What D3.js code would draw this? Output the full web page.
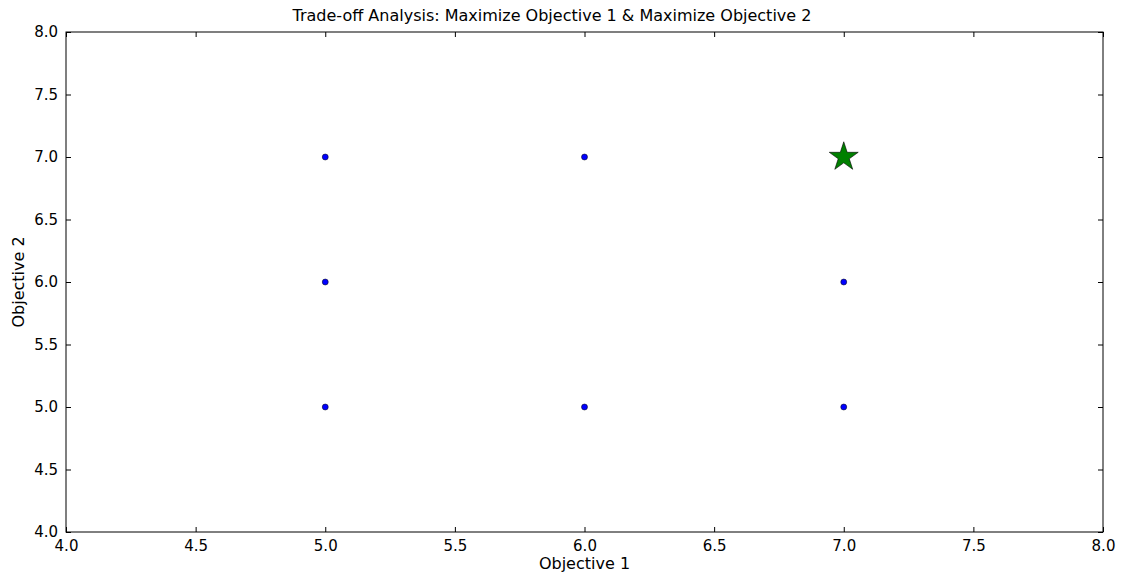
<!DOCTYPE html>
<html>
<head>
<meta charset="utf-8">
<script src="https://cdn.jsdelivr.net/npm/d3@7"></script>
<style>
body { margin: 0; background: #fff; }
text { font-family: "DejaVu Sans", sans-serif; }
</style>
</head>
<body>
<div id="chart"></div>
<script>
var width = 1123,
height = 577,
margin = {top: 32, right: 20, bottom: 45, left: 66};

// points (Objective 1, Objective 2)
var obj1 = [5, 5, 5, 6, 6, 7, 7];
var obj2 = [7, 6, 5, 7, 5, 6, 5];
// best trade-off point
var bestObj1 = [7];
var bestObj2 = [7];
var tickValues = [4.0, 4.5, 5.0, 5.5, 6.0, 6.5, 7.0, 7.5, 8.0];

var points = obj1.map((d, i) => [d, obj2[i]]);
var best = bestObj1.map((d, i) => [d, bestObj2[i]]);

var xScale = d3.scaleLinear().
domain([4, 8]).
range([margin.left, width - margin.right]);
var yScale = d3.scaleLinear().
domain([4, 8]).
range([height - margin.bottom, margin.top]);

const svg = d3.select('#chart').
append('svg').
attr('width', width).
attr('height', height);

// ticks point inward like the classic matplotlib style
const xAxis = d3.axisBottom(xScale).tickValues(tickValues).tickFormat(d3.format('.1f')).tickSizeInner(-5).tickSizeOuter(0).tickPadding(8);
const yAxis = d3.axisLeft(yScale).tickValues(tickValues).tickFormat(d3.format('.1f')).tickSizeInner(-5).tickSizeOuter(0).tickPadding(8);
const xTop = d3.axisTop(xScale).tickValues(tickValues).tickFormat('').tickSizeInner(-5).tickSizeOuter(0);
const yRight = d3.axisRight(yScale).tickValues(tickValues).tickFormat('').tickSizeInner(-5).tickSizeOuter(0);

[
  [xAxis, 'translate(0,' + (height - margin.bottom) + ')'],
  [yAxis, 'translate(' + margin.left + ',0)'],
  [xTop, 'translate(0,' + margin.top + ')'],
  [yRight, 'translate(' + (width - margin.right) + ',0)']
].forEach(a => {
  var g = svg.append('g').attr('transform', a[1]).call(a[0]);
  g.select('.domain').remove();
  g.selectAll('line').attr('stroke', '#000');
  g.selectAll('text').attr('font-size', 15).attr('fill', '#000');
});

svg.append('rect').
attr('x', margin.left).
attr('y', margin.top).
attr('width', width - margin.left - margin.right).
attr('height', height - margin.top - margin.bottom).
attr('fill', 'none').
attr('stroke', '#000').
attr('stroke-width', 1);

svg.selectAll('circle.pt').
data(points).
enter().
append('circle').
attr('class', 'pt').
attr('cx', d => xScale(d[0])).
attr('cy', d => yScale(d[1])).
attr('r', 3).
attr('fill', '#0000ff').
attr('stroke', '#000').
attr('stroke-width', 0.5);

var star = d3.symbol().type(d3.symbolStar).size(260);
svg.selectAll('path.best').
data(best).
enter().
append('path').
attr('class', 'best').
attr('d', star).
attr('transform', d => 'translate(' + xScale(d[0]) + ',' + yScale(d[1]) + ')').
attr('fill', '#008000').
attr('stroke', '#000').
attr('stroke-width', 0.6);

svg.append('text').
attr('x', 552).
attr('y', 21).
attr('text-anchor', 'middle').
attr('font-size', 16).
text('Trade-off Analysis: Maximize Objective 1 & Maximize Objective 2');

svg.append('text').
attr('x', (margin.left + width - margin.right) / 2).
attr('y', 569).
attr('text-anchor', 'middle').
attr('font-size', 16).
text('Objective 1');

svg.append('text').
attr('transform', 'translate(24,' + ((margin.top + height - margin.bottom) / 2) + ') rotate(-90)').
attr('text-anchor', 'middle').
attr('font-size', 16).
text('Objective 2');
</script>
</body>
</html>
